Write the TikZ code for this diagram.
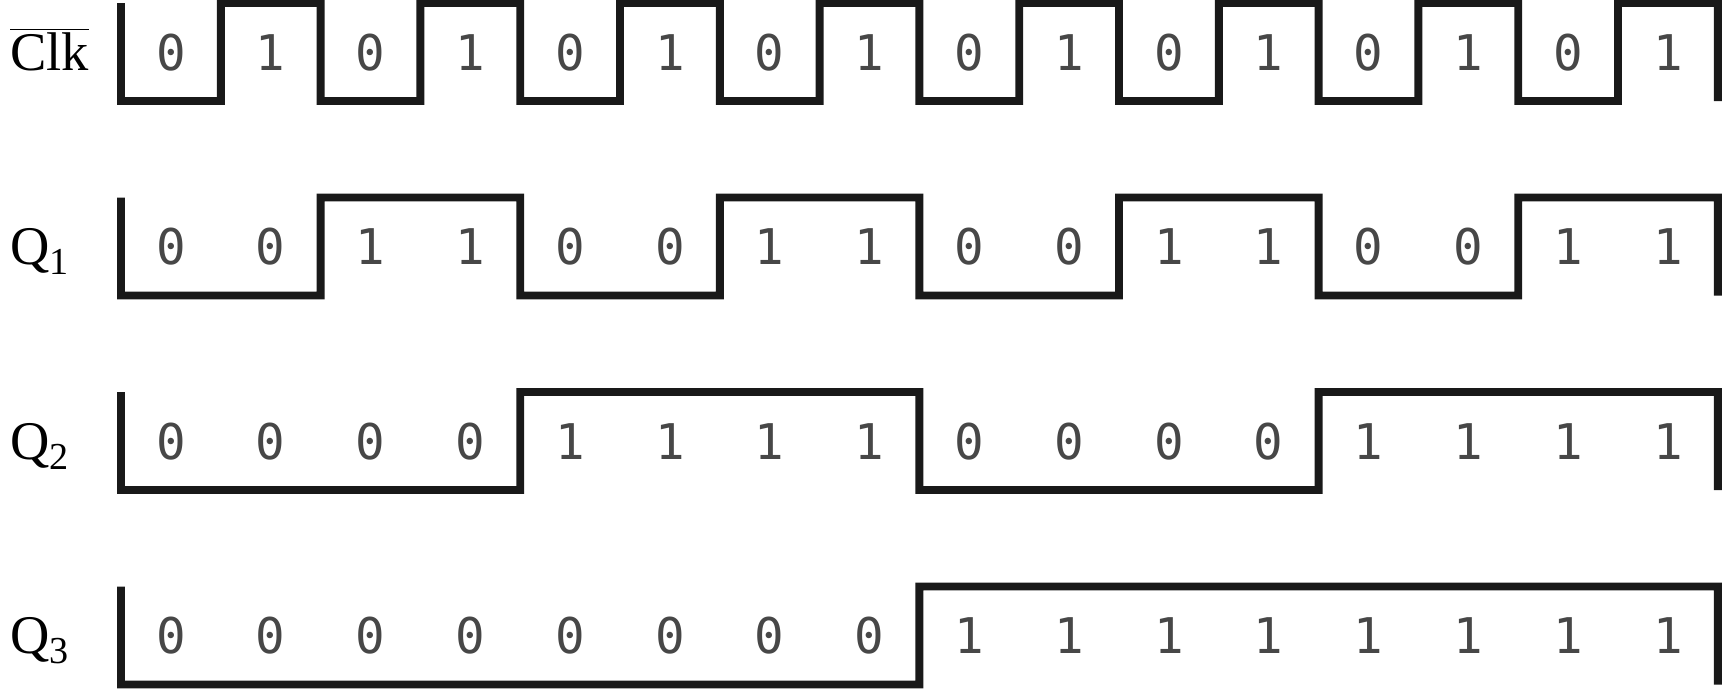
\documentclass[tikz,border=0pt]{standalone}
\usepackage{fontspec}
\setmainfont{Liberation Serif}
\newfontfamily\bitfont{DejaVu Sans Mono}

\begin{document}
\begin{tikzpicture}[x=0.02cm,y=-0.02cm,
                    wave/.style={line width=4.5pt,line join=miter,black!90},
                    bit node/.style={font=\bitfont\fontsize{28}{28}\selectfont,text=black!72,inner sep=0pt,anchor=base},
                    sig node/.style={font=\fontsize{31}{31}\selectfont,inner sep=0pt,anchor=base west}]
  \useasboundingbox (0,0) rectangle (1722,694);

  \foreach \name/\lab/\bits [count=\r from 0] in {
      clk/{$\overline{\hbox{Clk}}$}/{0,1,0,1,0,1,0,1,0,1,0,1,0,1,0,1},
      q1/{Q\textsubscript{1}}/{0,0,1,1,0,0,1,1,0,0,1,1,0,0,1,1},
      q2/{Q\textsubscript{2}}/{0,0,0,0,1,1,1,1,0,0,0,0,1,1,1,1},
      q3/{Q\textsubscript{3}}/{0,0,0,0,0,0,0,0,1,1,1,1,1,1,1,1}}{
    \pgfmathsetmacro\hi{3+194.5*\r}
    \pgfmathsetmacro\base{70+194.5*\r}
    \node[sig node] (\name) at (10,\base) {\lab};
    \draw[wave] (121,\hi) \foreach \b [count=\i from 0] in \bits {
        -- (121+99.8*\i,\hi+98-98*\b) -- (220.8+99.8*\i,\hi+98-98*\b)} -- (1717.8,\hi+98);
    \foreach \b [count=\i] in \bits
      \node[bit node] (\name-\i) at (71.1+99.8*\i,\base) {\b};
  }
\end{tikzpicture}
\end{document}
